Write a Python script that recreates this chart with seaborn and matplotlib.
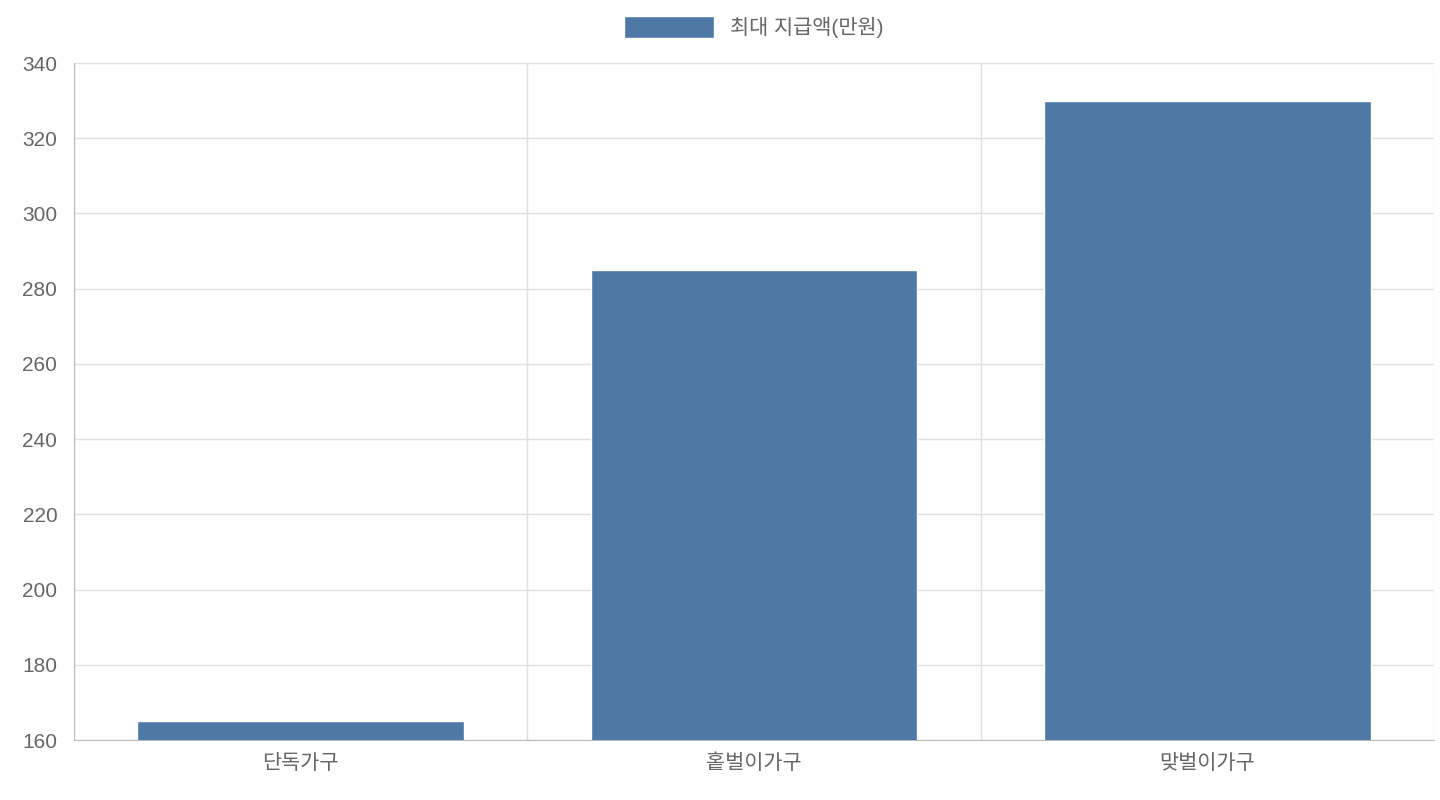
import matplotlib
matplotlib.use("Agg")
import matplotlib.pyplot as plt
import seaborn as sns
import pandas as pd
from matplotlib.ticker import FixedLocator, MultipleLocator

categories = ["단독가구", "홑벌이가구", "맞벌이가구"]
values = [165, 285, 330]
series_name = "최대 지급액(만원)"

sns.set_style("white")
plt.rcParams['font.family'] = ['Liberation Sans', 'Noto Sans CJK KR', 'DejaVu Sans']

df = pd.DataFrame({"cat": categories, "val": values})
fig = plt.figure(figsize=(14.4, 8), dpi=100)
ax = fig.add_axes([74/1440, 60/800, 1360/1440, 677/800])
sns.barplot(data=df, x="cat", y="val", color="#4e79a7", saturation=1, width=0.72, ax=ax, label=series_name, zorder=3)

ax.set_ylim(160, 340)
ax.set_xlim(-0.5, 2.5)
ax.yaxis.set_major_locator(MultipleLocator(20))
ax.xaxis.set_minor_locator(FixedLocator([-0.5, 0.5, 1.5, 2.5]))
ax.grid(True, axis="y", color="#e0e0e0", linewidth=1, zorder=0)
ax.grid(True, axis="x", which="minor", color="#e0e0e0", linewidth=1, zorder=0)
ax.tick_params(axis="x", which="major", length=0, pad=10, labelsize=15, labelcolor="#666666")
ax.tick_params(axis="x", which="minor", length=20, color="#cccccc", width=1)
ax.tick_params(axis="y", length=10, color="#cccccc", labelsize=15, labelcolor="#666666", pad=2)
ax.set_xlabel("")
ax.set_ylabel("")
for s in ["top", "right"]:
    ax.spines[s].set_visible(False)
for s in ["left", "bottom"]:
    ax.spines[s].set_color("#bbbbbb")

ax.legend(loc="lower center", bbox_to_anchor=(0.5, 1.0), frameon=False, handlelength=4.3,
          handleheight=1.2, fontsize=15, labelcolor="#666666", borderaxespad=0.8)

fig.savefig("out.png", dpi=100)
